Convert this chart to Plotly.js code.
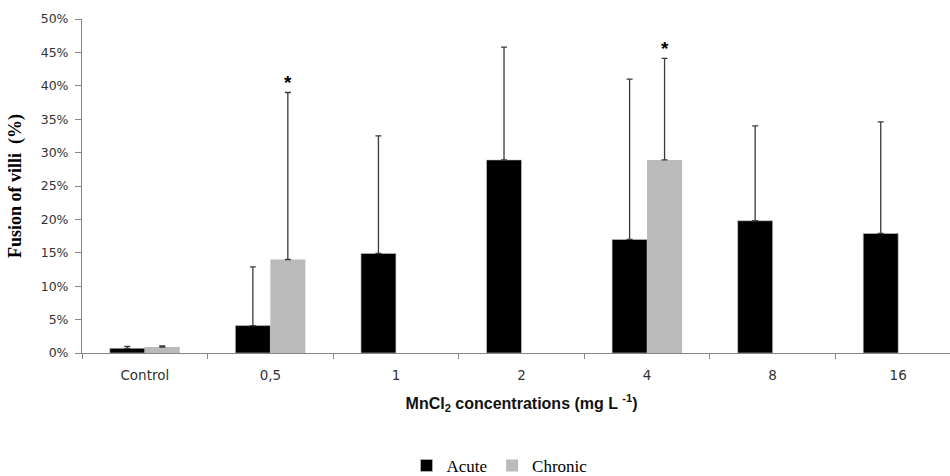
<!DOCTYPE html>
<html>
<head>
<meta charset="utf-8">
<script src="https://cdn.plot.ly/plotly-3.0.1.min.js"></script>
<style>
html,body{margin:0;padding:0;background:#fff;overflow:hidden;width:950px;height:476px;}
#chart{width:962px;height:476px;}
</style>
</head>
<body>
<div id="chart"></div>
<script>
const categories = ["Control", "0,5", "1", "2", "4", "8", "16"];
const acuteValues = [0.7, 4.1, 14.9, 28.9, 17.0, 19.8, 17.9];
const acuteErrors = [0.3, 8.8, 17.6, 16.9, 24.0, 14.2, 16.7];
const chronicValues = [0.9, 14.0, null, null, 28.9, null, null];
const chronicErrors = [0.15, 25.0, null, null, 15.2, null, null];
const significant = ["0,5", "4"];
const yTicks = [0, 5, 10, 15, 20, 25, 30, 35, 40, 45, 50];

function errStyle(arr) {
  return {
    type: "data", visible: true, symmetric: false,
    array: arr, arrayminus: arr.map(v => (v === null ? null : 0)),
    color: "#3a3a3a", thickness: 1.3, width: 3
  };
}

const traces = [
  {
    type: "bar", name: "Acute", x: categories, y: acuteValues,
    marker: {color: "#000000", line: {color: "#c8c8c8", width: 0.6}},
    error_y: errStyle(acuteErrors)
  },
  {
    type: "bar", name: "Chronic", x: categories, y: chronicValues,
    marker: {color: "#bababa", line: {width: 0}},
    error_y: errStyle(chronicErrors)
  }
];

const annotations = significant.map(c => {
  const i = categories.indexOf(c);
  return {
    x: c, y: chronicValues[i] + chronicErrors[i], xref: "x", yref: "y",
    text: "<b>*</b>", showarrow: false, xshift: 17.5, yanchor: "bottom", yshift: -3,
    font: {family: "Liberation Sans, Arial, sans-serif", size: 19, color: "#000"}
  };
});

const layout = {
  width: 962, height: 476,
  margin: {l: 82, r: 1, t: 19, b: 123, autoexpand: false},
  paper_bgcolor: "#fff", plot_bgcolor: "#fff",
  barmode: "group", bargap: 0.443, bargroupgap: 0,
  showlegend: true,
  legend: {
    orientation: "h", x: 0.475, xanchor: "center", y: -0.338, yanchor: "middle",
    font: {family: "Liberation Serif, Times New Roman, serif", size: 17, color: "#000"},
    itemwidth: 30, traceorder: "normal", tracegroupgap: 0
  },
  xaxis: {
    type: "category", tickson: "boundaries", ticks: "outside", ticklen: 5,
    tickcolor: "#868686", showline: true, linecolor: "#868686", linewidth: 1,
    showgrid: false, zeroline: false, ticklabelstandoff: 10,
    tickfont: {family: "DejaVu Sans, Verdana, sans-serif", size: 13.5, color: "#333"},
    title: {
      text: "<b>MnCl<sub>2</sub> concentrations (mg L <sup>-1</sup>)</b>",
      font: {family: "Liberation Sans, Arial, sans-serif", size: 16, color: "#111"},
      standoff: 15
    }
  },
  yaxis: {
    range: [0, 50], tickvals: yTicks, ticktext: yTicks.map(v => v + "%"),
    ticks: "outside", ticklen: 6, tickcolor: "#868686",
    showline: true, linecolor: "#868686", linewidth: 1,
    showgrid: false, zeroline: false, ticklabelstandoff: 4,
    tickfont: {family: "DejaVu Sans, Verdana, sans-serif", size: 12.5, color: "#333"},
    title: {
      text: "<b>Fusion of villi  (%)</b>",
      font: {family: "Liberation Serif, Times New Roman, serif", size: 18, color: "#000"},
      standoff: 14
    }
  },
  annotations: annotations
};

Plotly.newPlot("chart", traces, layout, {displayModeBar: false, staticPlot: true});
</script>
</body>
</html>
